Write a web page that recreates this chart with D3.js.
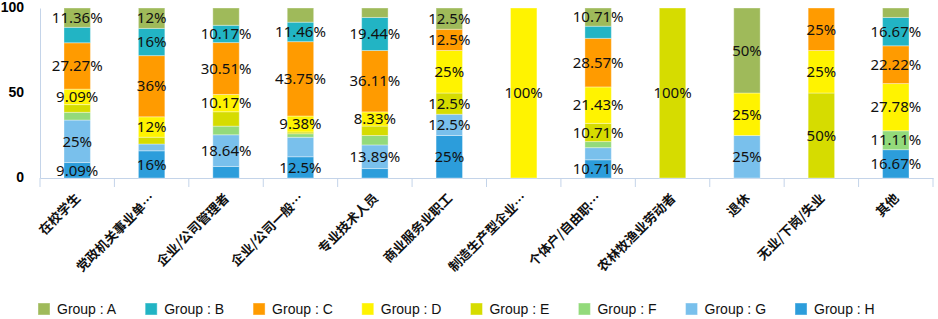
<!DOCTYPE html>
<html>
<head>
<meta charset="utf-8">
<script src="https://cdn.jsdelivr.net/npm/d3@7"></script>
<style>
  body { margin: 0; background: #fff; }
  svg { display: block; }
</style>
</head>
<body>
<div id="viz"></div>
<script>
// stacked 100% bars by occupation

const categories = ['在校学生', '党政机关事业单位', '企业/公司管理者', '企业/公司一般职员', '专业技术人员', '商业服务业职工',
    '制造生产型企业工人', '个体户/自由职业者', '农林牧渔业劳动者', '退休', '无业/下岗/失业', '其他'];
const tickLabels = ['在校学生', '党政机关事业单…', '企业/公司管理者', '企业/公司一般…', '专业技术人员', '商业服务业职工',
    '制造生产型企业…', '个体户/自由职…', '农林牧渔业劳动者', '退休', '无业/下岗/失业', '其他'];

// respondent counts per group
const groupA = [5, 3, 6, 8, 2, 1, 0, 3, 0, 2, 0, 1];
const groupB = [4, 4, 6, 11, 7, 0, 0, 2, 0, 0, 0, 3];
const groupC = [12, 9, 18, 42, 13, 1, 0, 8, 0, 0, 1, 4];
const groupD = [4, 3, 6, 9, 3, 2, 1, 6, 0, 1, 1, 5];
const groupE = [2, 1, 5, 1, 2, 1, 0, 3, 1, 0, 2, 0];
const groupF = [2, 0, 3, 2, 2, 0, 0, 1, 0, 0, 0, 2];
const groupG = [11, 1, 11, 11, 5, 1, 0, 2, 0, 1, 0, 0];
const groupH = [4, 4, 4, 12, 2, 2, 0, 3, 0, 0, 0, 3];

const groupNames = ['Group : A', 'Group : B', 'Group : C', 'Group : D', 'Group : E', 'Group : F', 'Group : G', 'Group : H'];
const yTicks = [0, 50, 100];

const seriesList = [groupA, groupB, groupC, groupD, groupE, groupF, groupG, groupH];
const keys = ['A', 'B', 'C', 'D', 'E', 'F', 'G', 'H'];
const colors = {
    A: '#9fba5a', B: '#22b4c4', C: '#ff9b00', D: '#fff300',
    E: '#d6dc00', F: '#93da7b', G: '#79c0ec', H: '#2c9ddb'
};

var dimensions = {
    width: 938,
    height: 319,
    margins: { left: 40, right: 5, top: 8, bottom: 141 }
};
dimensions.boundedWidth = dimensions.width - dimensions.margins.left - dimensions.margins.right;
dimensions.boundedHeight = dimensions.height - dimensions.margins.top - dimensions.margins.bottom;

// build percentage rows
const rows = categories.map((c, i) => {
    let row = { cat: c };
    let total = d3.sum(seriesList, s => s[i]);
    keys.forEach((k, j) => { row[k] = seriesList[j][i] / total * 100; });
    return row;
});

// H at the bottom, A on top
const stacked = d3.stack().keys(keys.slice().reverse())(rows);

const viz = d3.select('#viz').append('svg')
    .attr('width', dimensions.width)
    .attr('height', dimensions.height);

const bounds = viz.append('g')
    .attr('transform', `translate(${dimensions.margins.left},${dimensions.margins.top})`);

const xScale = d3.scaleBand()
    .domain(categories)
    .range([0, dimensions.boundedWidth])
    .paddingInner(0.645)
    .paddingOuter(0.3225);

const yScale = d3.scaleLinear()
    .domain([0, 100])
    .range([dimensions.boundedHeight, 0]);

const axisColor = '#c4d4e9';

// y axis
const yAxis = bounds.append('g')
    .call(d3.axisLeft(yScale).tickValues(yTicks).tickSize(0).tickPadding(16));
yAxis.select('.domain').attr('stroke', axisColor);
yAxis.selectAll('text')
    .attr('dy', '0.22em')
    .style('font-family', '"Liberation Sans", Arial, sans-serif')
    .style('font-size', '14px')
    .style('font-weight', 'bold')
    .attr('fill', '#000');

// x axis
const xAxis = bounds.append('g')
    .attr('transform', `translate(0,${dimensions.boundedHeight})`)
    .call(d3.axisBottom(xScale).tickSize(0).tickFormat((d, i) => tickLabels[i]));
xAxis.select('.domain').attr('stroke', axisColor);
xAxis.selectAll('text')
    .attr('text-anchor', 'end')
    .attr('x', 0)
    .attr('y', 0)
    .attr('dy', 0)
    .attr('transform', 'translate(4,21) rotate(-45)')
    .style('font-family', '"Noto Sans CJK SC", sans-serif')
    .style('font-size', '13px')
    .style('font-weight', 'bold')
    .attr('fill', '#111');

// boundary ticks between categories
const half = (xScale.step() - xScale.bandwidth()) / 2;
const edges = categories.map(c => xScale(c) - half).concat([xScale(categories[categories.length - 1]) + xScale.bandwidth() + half]);
xAxis.selectAll('.edge')
    .data(edges)
    .enter()
    .append('line')
        .attr('class', 'edge')
        .attr('x1', d => d)
        .attr('x2', d => d)
        .attr('y1', 0)
        .attr('y2', 9)
        .attr('stroke', axisColor);

// bars
const layers = bounds.selectAll('.layer')
    .data(stacked)
    .enter()
    .append('g')
        .attr('class', 'layer')
        .attr('fill', d => colors[d.key]);

layers.selectAll('rect')
    .data(d => d.filter(p => p[1] - p[0] > 0))
    .enter()
    .append('rect')
        .attr('x', d => xScale(d.data.cat))
        .attr('y', d => yScale(d[1]))
        .attr('width', xScale.bandwidth())
        .attr('height', d => yScale(d[0]) - yScale(d[1]))
        .attr('stroke', 'rgba(255,255,255,0.35)')
        .attr('stroke-width', 1);

// labels: biggest first, skip small segments and ones that would collide
let labels = [];
stacked.forEach(layer => {
    layer.forEach(p => {
        let v = p[1] - p[0];
        if (v <= 0) return;
        labels.push({
            key: layer.key,
            order: keys.indexOf(layer.key),
            cat: p.data.cat,
            value: v,
            cy: yScale((p[0] + p[1]) / 2)
        });
    });
});
labels.sort((a, b) => b.value - a.value || a.order - b.order);

const boxHeight = 20.8;
let shown = [];
labels.forEach(l => {
    if (l.value < 8) return;
    let hit = shown.some(s => s.cat === l.cat && Math.abs(s.cy - l.cy) < boxHeight);
    if (!hit) shown.push(l);
});

function pct(v) {
    return Math.round(v * 100 + 1e-6) / 100 + '%';
}

bounds.selectAll('.val')
    .data(shown)
    .enter()
    .append('text')
        .attr('class', 'val')
        .attr('x', d => xScale(d.cat) + xScale.bandwidth() / 2)
        .attr('y', d => d.cy)
        .attr('dy', '0.35em')
        .attr('text-anchor', 'middle')
        .style('font-family', '"Noto Sans", sans-serif')
        .style('font-size', '15px')
        .attr('fill', '#111')
        .text(d => pct(d.value));

// legend
const legend = viz.append('g')
    .attr('transform', 'translate(38,303)');

let lx = 0;
groupNames.forEach((name, i) => {
    let item = legend.append('g').attr('transform', `translate(${lx},0)`);
    item.append('rect')
        .attr('width', 12)
        .attr('height', 12)
        .attr('fill', colors[keys[i]])
        .attr('stroke', 'rgba(255,255,255,0.4)');
    let t = item.append('text')
        .attr('x', 19)
        .attr('y', 6)
        .attr('dy', '0.35em')
        .style('font-family', '"Liberation Sans", Arial, sans-serif')
        .style('font-size', '14px')
        .attr('fill', '#111')
        .text(name);
    lx += 19 + t.node().getComputedTextLength() + 29;
});
</script>
</body>
</html>
